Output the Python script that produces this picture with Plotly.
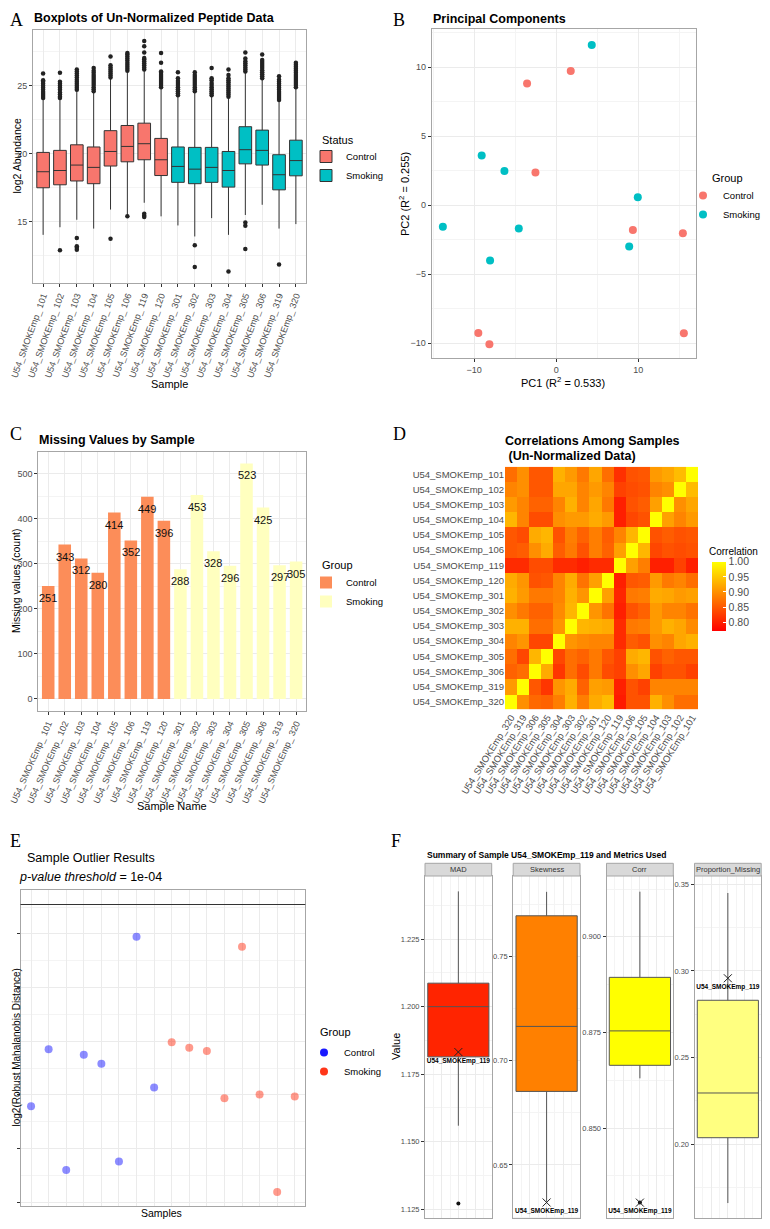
import plotly.graph_objects as go

# the page body keeps its default 8px margin, so the figure is made 16px smaller
# and every reference pixel position is shifted by that margin in fx/fy
PAGE_MARGIN = 8
W, H = 754, 1212
FONT = "Liberation Sans, Arial, sans-serif"
SERIF = "Liberation Serif, Times New Roman, serif"
TICK_GREY = "#4D4D4D"
GRID = "#EBEBEB"
GRID_MINOR = "#F4F4F4"
BORDER = "#A6A6A6"

# ---------------- data ----------------
SAMPLE_IDS = ["101", "102", "103", "104", "105", "106", "119", "120",
              "301", "302", "303", "304", "305", "306", "319", "320"]
GROUP = ["Control", "Control", "Control", "Control", "Control", "Control", "Control", "Control",
         "Smoking", "Smoking", "Smoking", "Smoking", "Smoking", "Smoking", "Smoking", "Smoking"]

# A: boxplot stats of log2 abundance
BOX_Q1 = [17.5, 17.72, 18.0, 17.8, 19.1, 19.41, 19.56, 18.4, 17.9, 17.8, 17.9, 17.55, 19.26, 19.17, 17.35, 18.38]
BOX_MED = [18.68, 18.77, 19.17, 19.0, 20.17, 20.54, 20.74, 19.56, 19.07, 18.87, 19.0, 18.77, 20.3, 20.25, 18.46, 19.5]
BOX_Q3 = [20.1, 20.25, 20.66, 20.5, 21.7, 22.08, 22.25, 21.13, 20.5, 20.47, 20.47, 20.17, 21.99, 21.74, 19.93, 21.0]
BOX_LO = [14.04, 14.6, 15.15, 14.5, 15.9, 15.5, 16.4, 15.4, 14.73, 13.92, 15.27, 14.04, 15.5, 16.25, 14.5, 14.83]
BOX_HI = [24.0, 24.0, 24.6, 24.5, 25.5, 26.0, 26.1, 24.8, 24.2, 24.5, 24.2, 24.1, 26.0, 25.5, 23.9, 24.8]
BOX_OUTLIERS = [
    [24.1, 24.25, 24.4, 24.55, 24.7, 24.85, 25.0, 25.15, 25.3, 25.4, 25.9],
    [24.1, 24.2, 24.35, 24.5, 24.7, 24.85, 25.0, 25.15, 25.3, 25.95, 12.9],
    [24.7, 24.85, 25.0, 25.15, 25.3, 25.45, 25.6, 25.75, 25.9, 26.05, 26.2, 13.8, 13.2, 13.1, 12.95],
    [24.6, 24.75, 24.9, 25.05, 25.2, 25.35, 25.5, 25.65, 25.8, 25.95, 26.1, 26.3],
    [25.6, 25.75, 25.9, 26.05, 26.2, 26.35, 26.5, 27.15, 13.75],
    [26.1, 26.25, 26.4, 26.55, 26.7, 26.85, 27.0, 27.15, 27.3, 27.4, 15.4],
    [26.2, 26.35, 26.5, 26.65, 26.8, 26.95, 27.05, 27.45, 27.9, 28.3, 15.6, 15.45, 15.35],
    [24.9, 25.05, 25.2, 25.35, 25.5, 25.65, 25.8, 25.95, 26.05, 26.7, 27.4],
    [24.3, 24.45, 24.6, 24.75, 24.9, 25.05, 25.2, 25.35, 25.55, 26.0],
    [24.6, 24.75, 24.9, 25.05, 25.2, 25.35, 25.5, 25.65, 25.8, 26.0, 13.28, 11.67],
    [24.3, 24.45, 24.6, 24.75, 24.9, 25.05, 25.2, 25.4, 25.55, 26.3],
    [24.2, 24.35, 24.5, 24.65, 24.8, 24.95, 25.1, 25.25, 25.4, 25.55, 25.8, 26.2, 11.35],
    [26.05, 26.2, 26.35, 26.5, 26.65, 26.8, 27.0, 27.45, 14.95, 14.7, 13.0],
    [25.55, 25.7, 25.85, 26.0, 26.15, 26.3, 26.45, 26.6, 26.75, 26.9, 27.3],
    [23.95, 24.1, 24.25, 24.4, 24.55, 24.7, 24.85, 25.0, 25.15, 25.3, 25.45, 25.7, 11.86],
    [24.9, 25.05, 25.2, 25.35, 25.5, 25.65, 25.8, 25.95, 26.1, 26.25, 26.4, 26.55, 26.7],
]

# B: principal components
PC1_CONTROL = [-3.54, 1.78, -2.52, 9.35, 15.44, -9.48, -8.13, 15.56]
PC2_CONTROL = [8.82, 9.73, 2.37, -1.79, -2.03, -9.25, -10.07, -9.28]
PC1_SMOKING = [4.34, -9.07, -6.3, -13.8, -4.55, -8.05, 9.95, 8.9]
PC2_SMOKING = [11.62, 3.6, 2.49, -1.55, -1.69, -4.0, 0.58, -2.99]

# C: missing values per sample
MISSING = [251, 343, 312, 280, 414, 352, 449, 396, 288, 453, 328, 296, 523, 425, 297, 305]

# D: correlations, rows 101..320 (top to bottom), columns 320..101 (left to right)
CORR = [
    [0.87, 0.90, 0.85, 0.85, 0.93, 0.91, 0.88, 0.92, 0.87, 0.815, 0.845, 0.85, 0.91, 0.92, 0.94, 1.00],
    [0.89, 0.90, 0.85, 0.85, 0.92, 0.92, 0.89, 0.91, 0.89, 0.83, 0.84, 0.845, 0.89, 0.90, 1.00, 0.94],
    [0.91, 0.89, 0.86, 0.86, 0.89, 0.93, 0.89, 0.92, 0.88, 0.80, 0.845, 0.855, 0.915, 1.00, 0.90, 0.92],
    [0.935, 0.89, 0.84, 0.84, 0.90, 0.91, 0.91, 0.925, 0.91, 0.80, 0.835, 0.845, 1.00, 0.915, 0.89, 0.91],
    [0.85, 0.84, 0.925, 0.935, 0.845, 0.885, 0.86, 0.885, 0.855, 0.89, 0.935, 1.00, 0.845, 0.855, 0.845, 0.85],
    [0.85, 0.855, 0.90, 0.925, 0.855, 0.88, 0.845, 0.885, 0.86, 0.915, 1.00, 0.935, 0.835, 0.845, 0.84, 0.845],
    [0.81, 0.81, 0.84, 0.84, 0.81, 0.81, 0.80, 0.81, 0.81, 1.00, 0.915, 0.885, 0.80, 0.80, 0.83, 0.80],
    [0.925, 0.905, 0.845, 0.85, 0.89, 0.925, 0.875, 0.915, 1.00, 0.80, 0.85, 0.855, 0.91, 0.88, 0.89, 0.87],
    [0.93, 0.91, 0.88, 0.88, 0.89, 0.93, 0.905, 1.00, 0.915, 0.805, 0.88, 0.885, 0.925, 0.92, 0.91, 0.915],
    [0.90, 0.88, 0.86, 0.86, 0.895, 0.935, 1.00, 0.905, 0.875, 0.80, 0.845, 0.86, 0.91, 0.89, 0.89, 0.875],
    [0.93, 0.93, 0.87, 0.87, 0.905, 1.00, 0.935, 0.93, 0.925, 0.81, 0.88, 0.885, 0.91, 0.93, 0.92, 0.895],
    [0.89, 0.905, 0.835, 0.835, 1.00, 0.905, 0.895, 0.89, 0.89, 0.81, 0.855, 0.845, 0.90, 0.89, 0.92, 0.93],
    [0.87, 0.835, 0.935, 1.00, 0.835, 0.87, 0.86, 0.88, 0.85, 0.83, 0.925, 0.935, 0.845, 0.86, 0.85, 0.85],
    [0.86, 0.87, 1.00, 0.925, 0.82, 0.87, 0.84, 0.88, 0.84, 0.83, 0.90, 0.92, 0.83, 0.845, 0.845, 0.83],
    [0.91, 1.00, 0.85, 0.82, 0.905, 0.925, 0.86, 0.915, 0.91, 0.80, 0.845, 0.83, 0.89, 0.89, 0.89, 0.89],
    [1.00, 0.90, 0.865, 0.86, 0.885, 0.93, 0.885, 0.925, 0.94, 0.795, 0.845, 0.845, 0.93, 0.90, 0.87, 0.87],
]
CORR_TICKS = [0.80, 0.85, 0.90, 0.95, 1.00]

# E: log2 robust Mahalanobis distance (axis has no labels; units = tick steps)
OUTLIER_DIST = [2.79, 3.85, 1.60, 3.75, 3.58, 1.76, 5.95, 3.14,
                3.98, 3.88, 3.82, 2.94, 5.76, 3.01, 1.19, 2.97]
THRESHOLD = 6.55

# F: metric summaries for sample 119
F_METRICS = ["MAD", "Skewness", "Corr", "Proportion_Missing"]
F_Q1 = [1.1814, 0.6853, 0.8664, 0.2038]
F_MED = [1.2000, 0.7165, 0.8754, 0.2296]
F_Q3 = [1.2087, 0.7696, 0.8894, 0.2831]
F_LO = [1.1559, 0.6324, 0.8630, 0.1661]
F_HI = [1.2427, 0.7811, 0.9118, 0.3450]
F_OUTLIERS = [[1.1271], [], [0.8305], []]
F_SAMPLE = [1.1832, 0.6320, 0.8305, 0.2958]
F_SAMPLE_NAME = "U54_SMOKEmp_119"

# ---------------- styling ----------------
CTRL_A, SMOK_A = "#F8766D", "#00BFC4"
CTRL_C, SMOK_C = "#FC8D59", "#FFFFBF"
CTRL_E, SMOK_E = "#0000FF", "#FF2000"
F_COLORS = ["#FF2400", "#FF8000", "#FFFF00", "#FFFF80"]
F_RANGES = [[1.1216, 1.2484], [0.6244, 0.7887], [0.8264, 0.9159], [0.1573, 0.3548]]
F_DTICK = [0.025, 0.05, 0.025, 0.05]
F_FORMAT = [".3f", ".2f", ".3f", ".2f"]
F_XPX = [(425, 491.7), (513.2, 580), (606.5, 673.3), (694.5, 761.2)]


def fx(p):
    return (p - PAGE_MARGIN) / W


def fy(p):
    return 1 - (p - PAGE_MARGIN) / H


def axis(domain, **kw):
    d = dict(domain=domain, showgrid=True, gridcolor=GRID, gridwidth=1,
             showline=True, linecolor=BORDER, linewidth=1, mirror=True,
             ticks="outside", ticklen=3, tickcolor="#333333", zeroline=False,
             automargin=False,
             tickfont=dict(family=FONT, size=9, color=TICK_GREY))
    d.update(kw)
    return d


def minor(dtick):
    return dict(dtick=dtick, showgrid=True, gridcolor=GRID_MINOR, gridwidth=0.6, ticks="")


annotations = []


def note(text, x, y, size=11, xanchor="left", angle=0, family=FONT, color="black",
         yanchor="middle"):
    annotations.append(dict(text=text, x=fx(x), y=fy(y), xref="paper", yref="paper",
                            xanchor=xanchor, yanchor=yanchor, showarrow=False,
                            textangle=angle, font=dict(family=family, size=size, color=color)))


fig = go.Figure()

# ---------------- A: boxplots ----------------
A_LABELS = [f"U54_SMOKEmp_ {s}" for s in SAMPLE_IDS]
for grp, color in (("Control", CTRL_A), ("Smoking", SMOK_A)):
    idx = [i for i, g in enumerate(GROUP) if g == grp]
    fig.add_trace(go.Box(
        x=[A_LABELS[i] for i in idx],
        q1=[BOX_Q1[i] for i in idx], median=[BOX_MED[i] for i in idx],
        q3=[BOX_Q3[i] for i in idx], lowerfence=[BOX_LO[i] for i in idx],
        upperfence=[BOX_HI[i] for i in idx],
        name=grp, fillcolor=color, line=dict(color="#333333", width=1),
        whiskerwidth=0, width=0.75, boxpoints=False, hoverinfo="skip",
        xaxis="x", yaxis="y", legend="legend",
    ))
ox, oy = [], []
for lab, vals in zip(A_LABELS, BOX_OUTLIERS):
    ox += [lab] * len(vals)
    oy += vals
fig.add_trace(go.Scatter(x=ox, y=oy, mode="markers", marker=dict(color="#222222", size=4.5),
                         showlegend=False, hoverinfo="skip", xaxis="x", yaxis="y"))

# ---------------- B: PCA ----------------
for name, xs, ys, color in (("Control", PC1_CONTROL, PC2_CONTROL, CTRL_A),
                            ("Smoking", PC1_SMOKING, PC2_SMOKING, SMOK_A)):
    fig.add_trace(go.Scatter(x=xs, y=ys, mode="markers", name=name,
                             marker=dict(color=color, size=8),
                             xaxis="x2", yaxis="y2", legend="legend2"))

# ---------------- C: missing values ----------------
for grp, color in (("Control", CTRL_C), ("Smoking", SMOK_C)):
    idx = [i for i, g in enumerate(GROUP) if g == grp]
    fig.add_trace(go.Bar(x=[A_LABELS[i] for i in idx], y=[MISSING[i] for i in idx],
                         name=grp, marker=dict(color=color, line=dict(width=0)),
                         width=0.76, xaxis="x3", yaxis="y3", legend="legend3"))

# ---------------- D: correlation heatmap ----------------
D_ROWS = [f"U54_SMOKEmp_{s}" for s in SAMPLE_IDS]
D_COLS = D_ROWS[::-1]
fig.add_trace(go.Heatmap(
    z=CORR, x=D_COLS, y=D_ROWS, zmin=0.772, zmax=1.0,
    colorscale=[[0, "#FF0000"], [1, "#FFFF00"]],
    colorbar=dict(x=fx(711.7), xanchor="left", y=fy(561.7), yanchor="top",
                  len=68.5, lenmode="pixels", thickness=14, thicknessmode="pixels",
                  tickvals=CORR_TICKS, ticktext=[f"{v:.2f}" for v in CORR_TICKS],
                  tickfont=dict(family=FONT, size=10.5, color=TICK_GREY),
                  ticks="inside", tickcolor="white", ticklen=3,
                  outlinewidth=0, xpad=0, ypad=0),
    xaxis="x4", yaxis="y4", hoverinfo="skip",
))

# ---------------- E: outlier results ----------------
for grp, color in (("Control", CTRL_E), ("Smoking", SMOK_E)):
    idx = [i for i, g in enumerate(GROUP) if g == grp]
    fig.add_trace(go.Scatter(x=[SAMPLE_IDS[i] for i in idx], y=[OUTLIER_DIST[i] for i in idx],
                             mode="markers", marker=dict(color=color, size=8, opacity=0.45),
                             showlegend=False, xaxis="x5", yaxis="y5"))
    fig.add_trace(go.Scatter(x=[None], y=[None], mode="markers", name=grp,
                             marker=dict(color=color, size=8, opacity=0.9),
                             xaxis="x5", yaxis="y5", legend="legend4"))

# ---------------- F: metric summaries ----------------
for k in range(4):
    ax = str(6 + k)
    fig.add_trace(go.Box(
        x=[0], q1=[F_Q1[k]], median=[F_MED[k]], q3=[F_Q3[k]],
        lowerfence=[F_LO[k]], upperfence=[F_HI[k]],
        fillcolor=F_COLORS[k], line=dict(color="#555555", width=1),
        whiskerwidth=0, width=1.1, boxpoints=False, showlegend=False,
        hoverinfo="skip", xaxis="x" + ax, yaxis="y" + ax,
    ))
    if F_OUTLIERS[k]:
        fig.add_trace(go.Scatter(x=[0] * len(F_OUTLIERS[k]), y=F_OUTLIERS[k], mode="markers",
                                 marker=dict(color="#111111", size=4), showlegend=False,
                                 xaxis="x" + ax, yaxis="y" + ax))
    fig.add_trace(go.Scatter(
        x=[0], y=[F_SAMPLE[k]], mode="markers+text", text=[f"<b>{F_SAMPLE_NAME}</b>"],
        textposition="bottom center", textfont=dict(family=FONT, size=6.5, color="black"),
        marker=dict(symbol="x-thin-open", size=8, color="#222222",
                    line=dict(color="#222222", width=1)),
        showlegend=False, cliponaxis=False, xaxis="x" + ax, yaxis="y" + ax,
    ))

# ---------------- layout ----------------
LEG = dict(xanchor="left", yanchor="top", itemwidth=30,
           font=dict(family=FONT, size=9.5), bgcolor="rgba(0,0,0,0)")
layout = dict(
    template="none",
    width=W, height=H, margin=dict(l=0, r=0, t=0, b=0, autoexpand=False),
    paper_bgcolor="white", plot_bgcolor="white", boxmode="overlay",
    font=dict(family=FONT, color="black"),
    xaxis=axis([fx(33), fx(306)], anchor="y", type="category", categoryorder="array",
               categoryarray=A_LABELS, range=[-0.6, 15.6], tickangle=-70),
    yaxis=axis([fy(283), fy(30)], anchor="x", range=[10.5, 29.1], tick0=0, dtick=5,
               minor=minor(2.5)),
    xaxis2=axis([fx(431.7), fx(696)], anchor="y2", range=[-15.16, 17.04], tick0=0, dtick=10,
                minor=minor(5)),
    yaxis2=axis([fy(358.3), fy(29.3)], anchor="x2", range=[-11.09, 12.75], tick0=0, dtick=5,
                minor=minor(2.5)),
    xaxis3=axis([fx(38.3), fx(306)], anchor="y3", type="category", categoryorder="array",
                categoryarray=A_LABELS, range=[-0.6, 15.6], tickangle=-66,
                tickfont=dict(family=FONT, size=9, color=TICK_GREY)),
    yaxis3=axis([fy(710.7), fy(451.7)], anchor="x3", range=[-26.15, 549.15], tick0=0, dtick=100,
                minor=minor(50)),
    xaxis4=dict(domain=[fx(505), fx(698.3)], anchor="y4", type="category", tickangle=-58,
                showgrid=False, showline=False, ticks="", zeroline=False, automargin=False,
                tickfont=dict(family=FONT, size=9.5, color=TICK_GREY)),
    yaxis4=dict(domain=[fy(709.3), fy(466.7)], anchor="x4", type="category",
                autorange="reversed", showgrid=False, showline=False, ticks="",
                zeroline=False, automargin=False,
                tickfont=dict(family=FONT, size=9.5, color=TICK_GREY)),
    xaxis5=axis([fx(20.5), fx(305.3)], anchor="y5", type="category", categoryorder="array",
                categoryarray=SAMPLE_IDS, range=[-0.6, 15.6], ticks="", showticklabels=False),
    yaxis5=axis([fy(1206), fy(890)], anchor="x5", range=[0.93, 6.82], tick0=0, dtick=1,
                showticklabels=False, minor=minor(0.5)),
    legend=dict(x=fx(306), y=fy(142), **LEG),
    legend2=dict(x=fx(683), y=fy(181), **LEG),
    legend3=dict(x=fx(306), y=fy(568), **LEG),
    legend4=dict(x=fx(304), y=fy(1038), **LEG),
)

shapes = [dict(type="line", xref="x5 domain", x0=0, x1=1, yref="y5", y0=THRESHOLD, y1=THRESHOLD,
               line=dict(color="#333333", width=1.2))]

# bar value labels, placed just under each bar top
for lab, v in zip(A_LABELS, MISSING):
    annotations.append(dict(text=str(v), x=lab, y=v, xref="x3", yref="y3", yshift=-12,
                            xanchor="center", yanchor="middle", showarrow=False,
                            font=dict(family=FONT, size=11, color="#111111")))

for k in range(4):
    ax = str(6 + k)
    x0, x1 = F_XPX[k]
    layout["xaxis" + ax] = axis([fx(x0), fx(x1)], anchor="y" + ax, range=[-0.6, 0.6],
                                tick0=0, dtick=0.3, ticks="", showticklabels=False,
                                minor=minor(0.15))
    layout["yaxis" + ax] = axis([fy(1218.3), fy(876)], anchor="x" + ax, range=F_RANGES[k],
                                tick0=0, dtick=F_DTICK[k], tickformat=F_FORMAT[k],
                                minor=minor(F_DTICK[k] / 2),
                                tickfont=dict(family=FONT, size=7.5, color=TICK_GREY))
    shapes.append(dict(type="rect", xref="paper", yref="paper", x0=fx(x0), x1=fx(x1),
                       y0=fy(876), y1=fy(863.3), fillcolor="#D9D9D9",
                       line=dict(color=BORDER, width=1)))
    note(F_METRICS[k], (x0 + x1) / 2, 869.8, size=7.5, xanchor="center", color="#333333")

# panel letters (the top/left ones sit at the page margin)
for letter, x, y in (("A", 8, 8), ("B", 391, 8), ("C", 8, 422),
                     ("D", 391, 422), ("E", 8, 829), ("F", 389, 829)):
    note(letter, x, y, size=18, family=SERIF, yanchor="top")

# titles
note("<b>Boxplots of Un-Normalized Peptide Data</b>", 32, 18, size=12.5)
note("<b>Principal Components</b>", 431, 19, size=12.5)
note("<b>Missing Values by Sample</b>", 37, 440, size=12.5)
note("<b>Correlations Among Samples</b>", 503, 441, size=12.5)
note("<b> (Un-Normalized Data)</b>", 503, 456, size=12.5)
note("Sample Outlier Results", 25, 858, size=12.5)
note("<i>p-value threshold</i> = 1e-04", 17, 877, size=12.5)
note("<b>Summary of Sample U54_SMOKEmp_119 and Metrics Used</b>", 425, 855, size=8.5)

# axis titles
note("Sample", 169, 384, xanchor="center")
note("log2 Abundance", 8, 156.5, size=10.5, angle=-90)
note("PC1 (R<sup>2</sup> = 0.533)", 563, 382, xanchor="center")
note("PC2 (R<sup>2</sup> = 0.255)", 404, 194, xanchor="center", angle=-90)
note("Sample Name", 172, 806, xanchor="center")
note("Missing values (count)", 8, 581, size=10.5, angle=-90)
note("Samples", 161, 1213, size=10.5, xanchor="center")
note("log2(Robust Mahalanobis Distance)", 8, 1048, size=10, angle=-90)
note("Value", 396, 1047, xanchor="center", angle=-90)

# legend titles
note("Status", 320, 140)
note("Group", 710, 178)
note("Group", 320, 565)
note("Group", 318, 1032)
note("Correlation", 707, 551, size=10)

layout["annotations"] = annotations
layout["shapes"] = shapes
fig.update_layout(**layout)

fig.write_html("out.html")
